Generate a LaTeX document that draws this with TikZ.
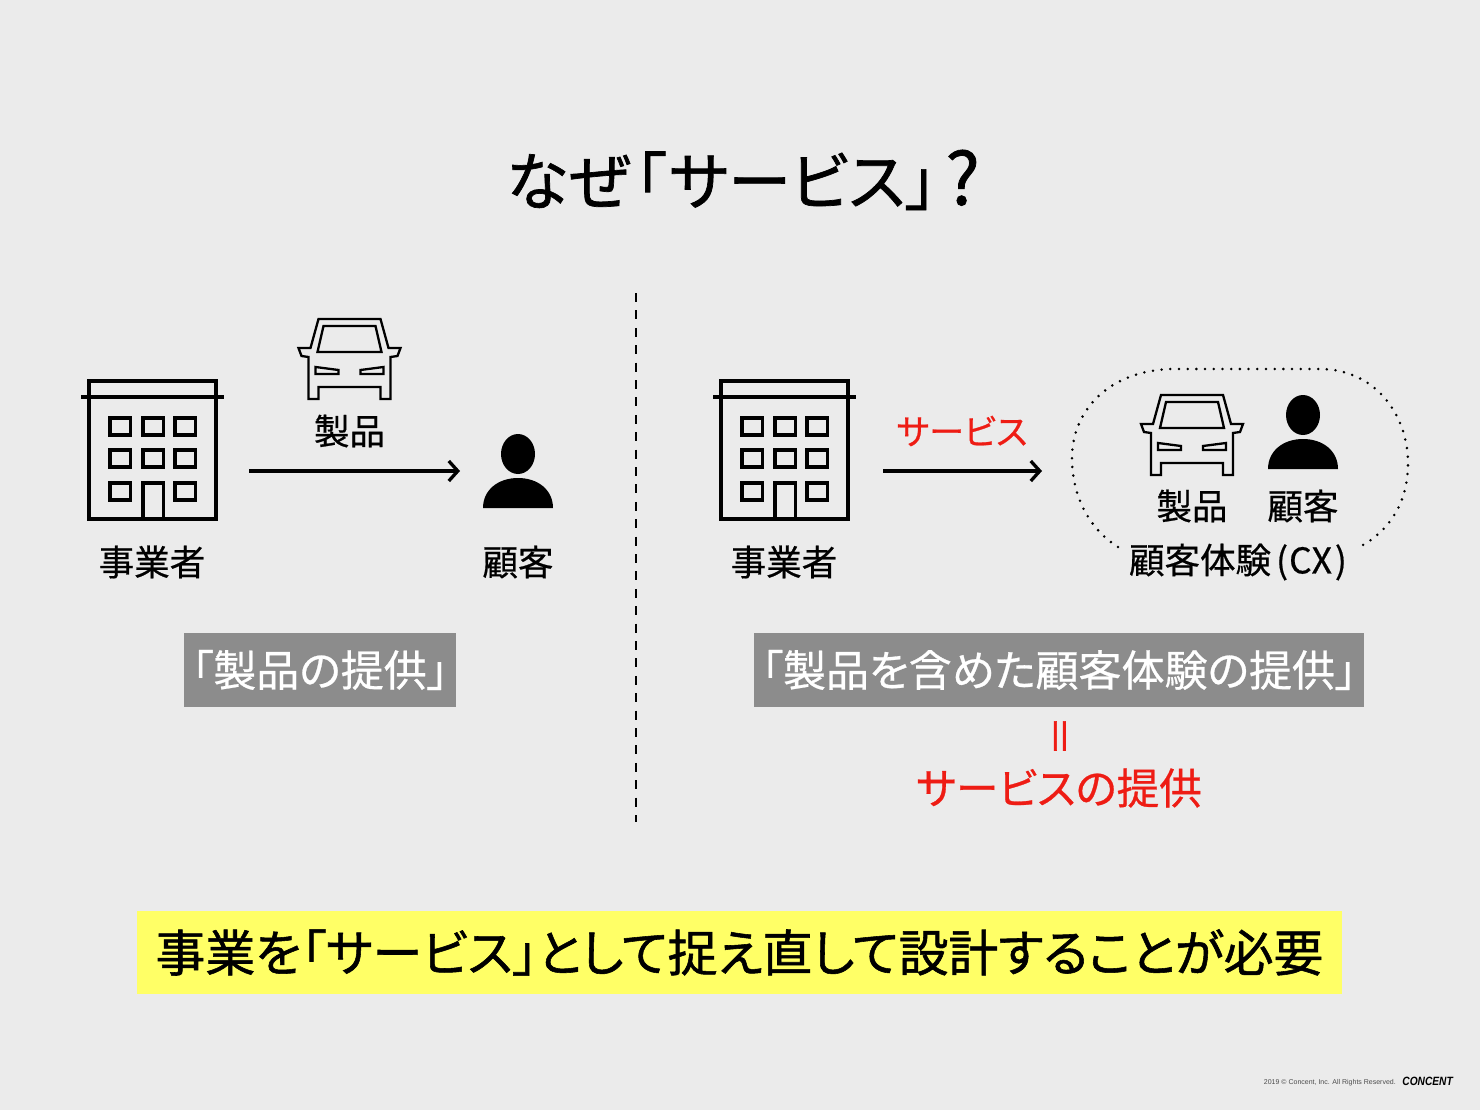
\documentclass[tikz,border=0pt]{standalone}
\usepackage{fontspec}
\usepackage{xcolor}
\usepackage{tikz}
\usetikzlibrary{arrows.meta}
\setmainfont{Liberation Sans}
\newfontfamily\cjk[RawFeature={+palt;embolden=0.6}]{Noto Sans CJK JP}
\newfontfamily\cjkmed[RawFeature={+palt;embolden=1.1}]{Noto Sans CJK JP}
\definecolor{slidebg}{HTML}{EBEBEB}
\definecolor{boxgray}{HTML}{8C8C8C}
\definecolor{markyellow}{HTML}{FFFF66}
\definecolor{servred}{HTML}{EE1C14}
\tikzset{
	building/.pic={
		\draw[line width=3.6pt] (1,1) rectangle (128,139);
		\draw[line width=3.6pt] (-7,17) -- (136,17);
		\foreach \wy in {38,70,103} {
			\foreach \wx in {22,55,87} {
				\ifnum\wy=103 \ifnum\wx=55 \else
					\draw[line width=3.4pt] (\wx,\wy) rectangle ++(20.5,17);
				\fi \else
					\draw[line width=3.4pt] (\wx,\wy) rectangle ++(20.5,17);
				\fi
			}
		}
		\draw[line width=3.4pt] (55,139) -- (55,103) -- (75.5,103) -- (75.5,139);
	},
	carfront/.pic={
		\draw[line width=2.3pt, line join=miter]
			(-31,1) -- (31,1) -- (39,30) -- (51,30) -- (48,38) -- (41,39) -- (41,81)
			-- (31,81) -- (31,69) -- (-31,69) -- (-31,81) -- (-41,81) -- (-41,39)
			-- (-48,38) -- (-51,30) -- (-39,30) -- cycle;
		\draw[line width=2.3pt] (-26,8) -- (26,8) -- (32,34) -- (-32,34) -- cycle;
		\draw[line width=2.3pt] (-34,49) -- (-11,52) -- (-11,56) -- (-34,56) -- cycle;
		\draw[line width=2.3pt] (34,49) -- (11,52) -- (11,56) -- (34,56) -- cycle;
	},
	personicon/.pic={
		\fill (0,-54) ellipse [x radius=17, y radius=20];
		\fill (-35,0) .. controls (-35,-18) and (-20,-30) .. (0,-30)
			.. controls (20,-30) and (35,-18) .. (35,0) -- cycle;
	}
}
\begin{document}
\begin{tikzpicture}[
		x=1pt, y=-1pt,
		label35/.style={inner sep=0pt, font=\cjk\fontsize{35.5}{40}\selectfont},
		graybox/.style={fill=boxgray, text=white, inner sep=0pt, font=\cjk\fontsize{43}{48}\selectfont},
		flowarrow/.style={line width=3.3pt, -{Straight Barb[length=9pt, width=20pt, line width=3.3pt]}}
	]
	\useasboundingbox (0,0) rectangle (1480,1110);
	\fill[slidebg] (0,0) rectangle (1480,1110);

	% --- Title ---
	\node[inner sep=0pt, font=\cjkmed\fontsize{63}{66}\selectfont] (title) at (743,180)
		{なぜ\kern4pt「\kern3pt サービス」\kern9pt{\fontsize{72}{72}\selectfont ?}};

	% --- Left side ---
	\pic at (88,380) {building};
	\pic at (349.5,318) {carfront};
	\pic at (518,508) {personicon};
	\node[label35] (bizL) at (152,562) {事業者};
	\node[label35] (prodL) at (349.5,431) {製品};
	\node[label35] (custL) at (518,562) {顧客};
	\coordinate (fromL) at (249,471);
	\coordinate (toL) at (460,471);
	\draw[flowarrow] (fromL) -- (toL);
	\node[graybox, minimum width=272pt, minimum height=74pt] (provL) at (320,670) {「製品の提供」};

	% --- Divider ---
	\coordinate (divtop) at (636,293);
	\coordinate (divbot) at (636,822);
	\draw[line width=1.8pt, dash pattern=on 9pt off 8.4pt] (divtop) -- (divbot);

	% --- Right side ---
	\pic at (720,380) {building};
	\pic at (1192,394) {carfront};
	\pic at (1303,469) {personicon};
	\node[label35] (bizR) at (784,562) {事業者};
	\node[label35] (prodR) at (1192,506) {製品};
	\node[label35] (custR) at (1303,506) {顧客};
	\node[label35] (cx) at (1238,562) {顧客体験\kern5pt(\kern1pt CX\kern3pt)};
	\node[inner sep=0pt, text=servred, font=\cjk\fontsize{35}{40}\selectfont] (servL) at (962,431) {サービス};
	\coordinate (fromR) at (883,471);
	\coordinate (toR) at (1042,471);
	\draw[flowarrow] (fromR) -- (toR);
	\draw[line width=2.8pt, line cap=round, dash pattern=on 0pt off 8.7pt]
		(1118,547) .. controls (1088,528) and (1072,495) .. (1072,458)
		.. controls (1072,410) and (1110,369) .. (1175,369)
		-- (1320,369)
		.. controls (1375,369) and (1408,415) .. (1408,463)
		.. controls (1408,500) and (1392,528) .. (1363,545);
	\node[graybox, minimum width=610pt, minimum height=74pt] (provR) at (1059,670) {「製品を含めた顧客体験の提供」};
	\node[inner sep=0pt, rotate=90, text=servred, font=\cjkmed\fontsize{38}{44}\selectfont] (eqsign) at (1064,736) {\scalebox{1.6}[1]{=}};
	\node[inner sep=0pt, text=servred, font=\cjk\fontsize{42.6}{48}\selectfont] (servtxt) at (1059,788) {サービスの提供};

	% --- Conclusion band ---
	\node[fill=markyellow, inner sep=0pt, minimum width=1205pt, minimum height=83pt,
		font=\cjkmed\fontsize{49.8}{54}\selectfont] (band) at (739.5,952.5) {事業を「サービス」として捉え直して設計することが必要};

	% --- Footer ---
	\node[inner sep=0pt, anchor=east, text=black!70, font=\fontsize{7}{8}\selectfont] (copy) at (1396,1082.5) {2019 © Concent, Inc. All Rights Reserved.};
	\node[inner sep=0pt, anchor=east, xscale=0.85, font=\bfseries\itshape\fontsize{12}{14}\selectfont] (brand) at (1453,1081.5) {CONCENT};
\end{tikzpicture}
\end{document}
